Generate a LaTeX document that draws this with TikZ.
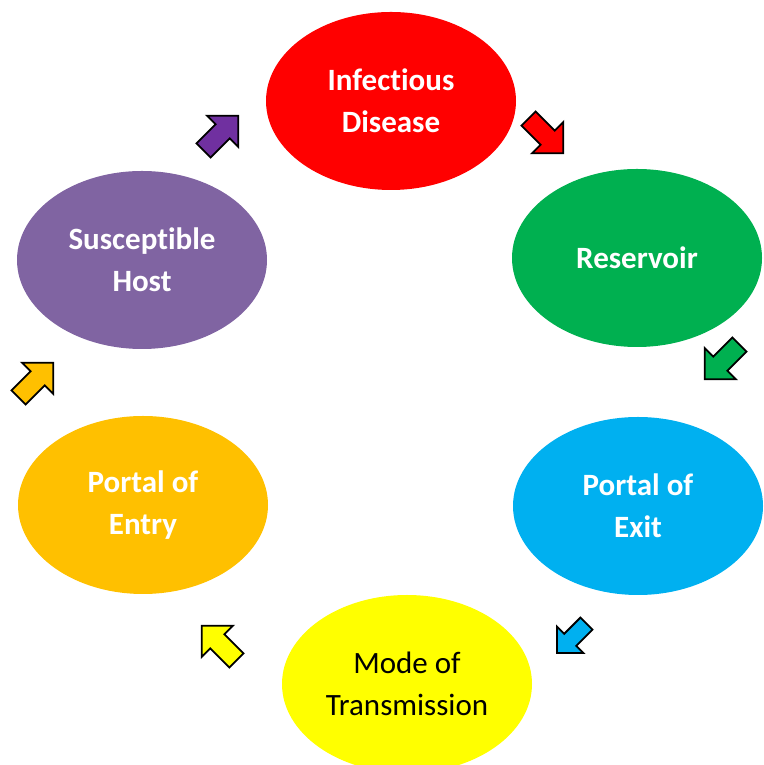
\documentclass[tikz,border=0pt]{standalone}
\usepackage{fontspec}
\setmainfont{Carlito}[Ligatures=NoCommon]
\usetikzlibrary{shapes.geometric}

\definecolor{cRed}{HTML}{FF0000}
\definecolor{cGreen}{HTML}{00B050}
\definecolor{cBlue}{HTML}{00B0F0}
\definecolor{cYellow}{HTML}{FFFF00}
\definecolor{cOrange}{HTML}{FFC000}
\definecolor{cLilac}{HTML}{8064A2}
\definecolor{cViolet}{HTML}{7030A0}

\tikzset{
  x=1pt, y=1pt,
  stage/.style={ellipse, minimum width=250pt, minimum height=178pt, inner sep=0pt,
    align=center, text=white, font=\fontsize{31}{42}\selectfont\bfseries},
  darkstage/.style={stage, text=black, font=\fontsize{31}{42}\selectfont},
  blockarrow/.pic={
    \draw[pic actions, line width=1.8pt, line join=miter]
      (-19,-10) -- (8,-10) -- (8,-22) -- (30,0) -- (8,22) -- (8,10) -- (-19,10) -- cycle;
  }
}

\begin{document}
\begin{tikzpicture}
\useasboundingbox (0,0) rectangle (763,765);

% the six stages of the chain
\node[stage, fill=cRed]       (disease)   at (391,664) {Infectious\\Disease};
\node[stage, fill=cGreen]     (reservoir) at (637,507) {Reservoir};
\node[stage, fill=cBlue]      (exit)      at (638,259) {Portal of\\Exit};
\node[darkstage, fill=cYellow](mode)      at (407,81)  {Mode of\\Transmission};
\node[stage, fill=cOrange]    (entry)     at (143,260) {Portal of\\Entry};
\node[stage, fill=cLilac]     (host)      at (142,505) {Susceptible\\Host};

% block arrows leading around the cycle
\pic[fill=cRed, rotate=-45]               at (542,633) {blockarrow};
\pic[fill=cGreen, rotate=-135]            at (726,407) {blockarrow};
\pic[fill=cBlue, rotate=-135, scale=0.85] at (575,130) {blockarrow};
\pic[fill=cYellow, rotate=135]            at (223,118) {blockarrow};
\pic[fill=cOrange, rotate=45]             at (32,381)  {blockarrow};
\pic[fill=cViolet, rotate=45]             at (217,628) {blockarrow};
\end{tikzpicture}
\end{document}
